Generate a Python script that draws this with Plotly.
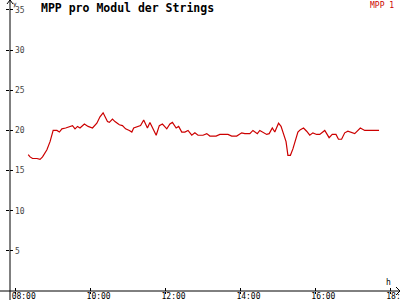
import plotly.graph_objects as go

# ---- data (minutes after 08:00, value) ----
minutes = [20, 23, 27, 34, 39, 43, 50, 55, 60, 66, 70, 74, 80, 86, 91, 95, 99, 103, 110, 116,
           123, 130, 135, 140, 147, 150, 155, 159, 162, 166, 171, 176, 182, 186, 189, 195, 200,
           205, 211, 215, 220, 225, 230, 235, 242, 247, 251, 257, 261, 266, 271, 276, 282, 287,
           292, 300, 306, 311, 321, 327, 340, 346, 354, 362, 367, 375, 380, 387, 391, 395, 402,
           406, 411, 415, 421, 425, 428, 433, 436, 440, 444, 449, 452, 456, 461, 466, 471, 476,
           482, 487, 495, 502, 507, 513, 517, 522, 527, 532, 538, 543, 552, 559, 582]
values = [17.0, 16.7, 16.5, 16.5, 16.4, 16.7, 17.6, 18.6, 20.0, 20.0, 19.8, 20.2, 20.3, 20.5,
          20.6, 20.2, 20.5, 20.3, 20.8, 20.5, 20.3, 20.9, 21.7, 22.2, 21.1, 21.0, 21.4, 21.1,
          20.9, 20.7, 20.6, 20.2, 20.0, 19.8, 20.3, 20.5, 20.6, 21.3, 20.3, 21.0, 20.2, 19.4,
          20.6, 20.8, 20.2, 20.8, 21.0, 20.3, 20.5, 19.8, 19.8, 20.0, 19.4, 19.7, 19.4, 19.4,
          19.6, 19.3, 19.3, 19.5, 19.5, 19.3, 19.3, 19.7, 19.6, 19.6, 20.0, 19.6, 20.0, 19.8,
          19.5, 19.6, 20.3, 19.8, 20.9, 20.5, 19.8, 18.6, 16.9, 16.9, 17.7, 19.0, 19.8, 20.1,
          20.3, 19.9, 19.4, 19.7, 19.5, 19.5, 20.0, 19.1, 19.5, 19.5, 18.9, 18.9, 19.7, 19.9,
          19.7, 19.6, 20.3, 20.0, 20.0]
series_name = "MPP 1"
title_text = "MPP pro Modul der Strings"
x_tick_vals = [8, 10, 12, 14, 16, 18]
x_tick_text = ["08:00", "10:00", "12:00", "14:00", "16:00", "18:00"]
y_tick_vals = [5, 10, 15, 20, 25, 30, 35]
y_tick_text = ["5", "10", "15", "20", "25", "30", "35"]

hours = [8 + m / 60 for m in minutes]

W, H = 400, 300
L, B = 10, 9
PW, PH = W - L, H - B


def px(x):
    return (x - L) / PW


def py(y):
    return (PH - y) / PH


FONT = "DejaVu Sans Mono"
RED = "#cc0000"

fig = go.Figure()
fig.add_trace(go.Scatter(x=hours, y=values, mode="lines", name=series_name,
                         line=dict(color=RED, width=1.2), showlegend=False))

xr = [8 - 5.7 / 37.46, 8 + 384.3 / 37.46]
yr = [0, 291 / 8.029]

fig.update_layout(
    width=W, height=H,
    margin=dict(l=L, r=0, t=0, b=B, autoexpand=False),
    paper_bgcolor="white", plot_bgcolor="white",
    font=dict(family=FONT, size=8, color="black"),
    xaxis=dict(range=xr, tickvals=x_tick_vals, ticktext=x_tick_text, showgrid=False,
               zeroline=False, showline=False, ticks="outside", ticklen=2, tickcolor="black",
               tickfont=dict(family=FONT, size=8), ticklabelshift=8, ticklabelstandoff=-5,
               ticklabeloverflow="allow", automargin=False),
    yaxis=dict(range=yr, tickvals=y_tick_vals, ticktext=y_tick_text, showgrid=False,
               zeroline=False, showline=False, ticks="outside", ticklen=3, tickcolor="black",
               ticklabelposition="inside", tickfont=dict(family=FONT, size=8),
               ticklabelstandoff=2, ticklabeloverflow="allow", automargin=False),
    xaxis2=dict(range=xr, overlaying="x", tickvals=x_tick_vals, showticklabels=False,
                ticks="inside", ticklen=3, tickcolor="black", showgrid=False, zeroline=False,
                automargin=False),
    yaxis2=dict(range=yr, overlaying="y", tickvals=y_tick_vals, showticklabels=False,
                ticks="inside", ticklen=3, tickcolor="black", showgrid=False, zeroline=False,
                automargin=False),
)
# invisible trace to activate overlay axes
fig.add_trace(go.Scatter(x=[None], y=[None], xaxis="x2", yaxis="y2", showlegend=False,
                         hoverinfo="skip"))

ax_line = dict(color="black", width=1)
shapes = [
    dict(type="line", xref="paper", yref="paper", x0=px(10), x1=px(10), y0=py(300), y1=py(0), line=ax_line),
    dict(type="line", xref="paper", yref="paper", x0=px(0), x1=px(400), y0=py(291), y1=py(291), line=ax_line),
    dict(type="path", xref="paper", yref="paper",
         path=f"M {px(7)},{py(4)} L {px(10)},{py(0)} L {px(13)},{py(4)}", line=ax_line),
    dict(type="path", xref="paper", yref="paper",
         path=f"M {px(396)},{py(287)} L {px(400)},{py(291)} L {px(396)},{py(295)}", line=ax_line),
]
fig.update_layout(shapes=shapes)

annotations = [
    dict(text=f"<b>{title_text}</b>", x=px(39), y=py(8), xref="paper", yref="paper",
         xanchor="left", yanchor="middle", showarrow=False,
         font=dict(family=FONT, size=11.5, color="black")),
    dict(text=series_name, x=px(395), y=py(0), xref="paper", yref="paper",
         xanchor="right", yanchor="top", showarrow=False, borderpad=0,
         font=dict(family=FONT, size=8, color=RED)),
    dict(text="y", x=px(12), y=py(-1), xref="paper", yref="paper",
         xanchor="left", yanchor="top", showarrow=False, borderpad=0,
         font=dict(family=FONT, size=6, color="black")),
    dict(text="h", x=px(388), y=py(282), xref="paper", yref="paper",
         xanchor="center", yanchor="middle", showarrow=False,
         font=dict(family=FONT, size=8, color="black")),
]
fig.update_layout(annotations=annotations)

fig.write_html("out.html")
